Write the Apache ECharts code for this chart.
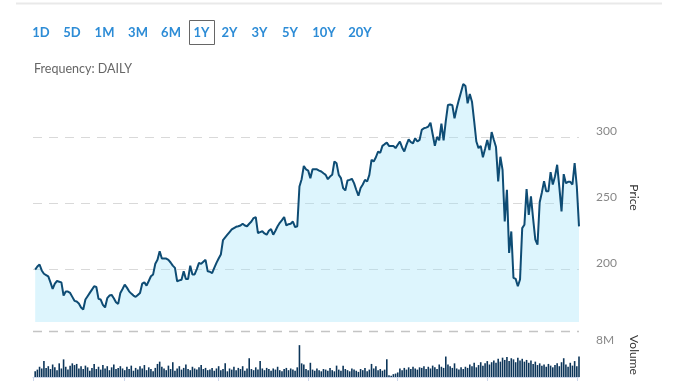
<!DOCTYPE html>
<html><head><meta charset="utf-8">
<script src="https://cdn.jsdelivr.net/npm/echarts@6/dist/echarts.min.js"></script>
<style>html,body{margin:0;padding:0;background:#fff}#c{width:678px;height:381px}</style>
</head><body><div id="c"></div>
<script>
// ---- data ----
const rangeButtons = ['1D','5D','1M','3M','6M','1Y','2Y','3Y','5Y','10Y','20Y'];
const activeRange = '1Y';
const frequencyText = 'Frequency: DAILY';
const priceTicks = [200, 250, 300];
const volumeTicks = [8];               // millions
const monthTickDays = [-1, 41, 84, 125, 166, 207, 248]; // trading-day index of month ticks

const price = [
199.6,202,203.5,199,196.5,195.5,194.5,190,185,189,
191,190.5,190,180,183,183,182,179,176,175.5,
174,171,169.5,177,179.5,182,184.5,187,186.5,177.5,
177,173,171,178,180,180.5,178,175,173.7,182,
185,188.3,186,183.2,181.5,180,179,180.5,182,189,
190,187.5,191,194.6,196,204,207,213.5,208,208,
208,207,205,202.6,200.9,190.8,191.5,192,198.3,192.5,
192.5,202.6,196,196,200,204.7,204,205.5,207,198.3,
198,197,201,204.7,208,211,222,224,226,228,
230,231,232,232.4,233,234.3,233,232.4,234.3,236,
238.6,239.3,227.3,228,228.6,227,226,229,230.3,226,
229,232.4,235,237,239.4,233,234,234.3,236,231.7,
232.4,262.5,268,278,275.5,274.5,268.8,275.5,275.5,275.5,
274.5,273.8,272.5,271.3,268,270,271.3,281.4,280,271.3,
268.8,261.3,259.5,267,267.5,268.3,265,260,255.5,261.3,
264,267.5,266.3,271.3,282.6,281.4,284.6,288.9,288,293.2,
294.5,295.7,293.2,293.2,293.2,291.5,294,296.5,292,288.9,
294,298.2,296,295.2,299,296.5,297.7,305.3,306.5,307,
307.8,310.8,302,293.2,300,297.4,310,297.4,312,324.2,
324.5,324,314,321.6,328,334,340,338.5,325.4,332.4,
326.6,312,296.5,291.5,293.2,284.6,291,297.7,290,303.7,
297.9,292.3,266.3,285,275,236,260,212.2,228.5,193.4,
192.6,187,192.1,231,233.5,260.5,241,255,238,222.3,
218.5,250.6,258,266.4,258.9,258.9,273.3,264,270,278.9,
262,243.6,271.8,265,266,266,264,280.1,262.5,232.3
];

const volume = [ // millions
1.0,1.3,1.8,1.5,2.8,1.6,1.9,1.4,2.2,1.7,
1.2,2.4,1.5,3.1,1.8,1.3,2.0,2.4,2.1,2.3,
1.5,1.9,1.4,2.0,1.7,1.1,1.6,2.3,1.4,1.8,
1.3,2.1,1.5,1.9,1.2,1.7,2.2,1.4,1.6,1.9,
1.5,1.2,1.8,1.4,2.0,1.1,1.6,1.3,1.9,1.5,
2.1,1.2,1.7,1.4,1.0,1.6,2.3,2.7,1.8,1.5,
1.2,2.0,1.4,2.6,1.1,1.5,1.9,1.3,1.6,2.2,
1.4,1.2,1.8,1.5,1.3,1.7,2.1,1.4,1.6,1.2,
1.3,1.6,1.1,1.5,1.9,1.2,1.4,2.4,1.0,1.5,
1.3,1.8,1.2,1.6,1.4,1.9,1.1,1.5,3.3,1.4,
1.2,1.7,1.3,2.8,1.5,1.2,1.6,1.4,1.1,1.5,
1.3,1.8,1.2,1.0,1.4,1.6,1.2,1.5,1.3,1.1,
1.7,5.6,2.4,2.2,1.4,1.2,2.5,1.3,1.1,1.5,
1.2,1.0,1.4,1.3,1.1,1.6,1.2,1.0,2.0,1.3,
1.1,2.0,1.4,1.2,1.0,1.5,1.3,1.1,0.9,1.4,
1.2,1.6,1.0,1.3,2.3,1.5,1.9,1.2,1.4,1.1,
1.3,3.1,0.3,0.2,0.5,0.6,0.8,1.5,1.2,1.6,
1.3,1.7,1.4,1.8,1.5,1.3,1.7,1.6,1.9,1.4,
1.8,1.5,2.0,1.7,1.4,2.2,1.8,1.6,3.6,2.2,
1.9,1.6,2.4,1.5,1.3,1.7,1.4,1.8,1.6,2.2,
1.9,2.5,1.7,2.1,2.6,2.0,2.4,2.8,2.2,2.6,
2.9,2.5,3.2,2.7,3.4,3.0,3.5,2.8,3.3,3.1,
2.6,3.4,2.9,3.2,2.7,3.0,2.5,2.9,2.3,2.7,
2.1,2.4,2.0,2.2,1.8,2.3,2.0,1.7,2.1,2.4,
1.9,2.6,3.3,2.2,1.8,2.5,2.0,2.8,1.9,3.6
];

// ---- layout (not data) ----
const buttonCenters = [41, 72, 104.5, 138, 171, 201.5, 229.5, 259.5, 290, 324, 360];
const btnY = 33;

const chart = echarts.init(document.getElementById('c'), null, {renderer: 'canvas'});

const graphics = [
  {type: 'rect', shape: {x: 16, y: 2.5, width: 646, height: 2}, style: {fill: '#e9e9e9'}, silent: true},
  {type: 'text', x: 34, y: 69, style: {text: frequencyText, font: '12.5px Lato', fill: '#666666', textAlign: 'left', textVerticalAlign: 'middle'}}
];
rangeButtons.forEach((b, k) => {
  if (b === activeRange) {
    graphics.push({type: 'rect', shape: {x: 189.5, y: 20.5, width: 25, height: 24}, style: {fill: 'none', stroke: '#666666', lineWidth: 1}});
  }
  graphics.push({type: 'text', x: buttonCenters[k], y: btnY, style: {text: b, font: 'bold 13px Lato', fill: '#2d8cd6', textAlign: 'center', textVerticalAlign: 'middle'}});
});

const dashStyle = {color: '#d9d9d9', type: [9, 7], width: 1};

// horizontal dashed grid line of the volume pane, drawn on the volume axes
const volGridSeries = volumeTicks.map(v => ({
  type: 'line', xAxisIndex: 1, yAxisIndex: 1, silent: true, symbol: 'none', z: 10,
  lineStyle: {color: '#c4c4c4', type: [9, 7], width: 1.5}, data: [[-1, v], [volume.length - 1, v]]
}));

chart.setOption({
  animation: false,
  backgroundColor: '#ffffff',
  graphic: {elements: graphics},
  grid: [
    {left: 33, right: 99, top: 84, height: 238},
    {left: 33, right: 99, top: 329, height: 48}
  ],
  xAxis: [
    {type: 'value', gridIndex: 0, min: -1, max: price.length - 1, show: false},
    {type: 'value', gridIndex: 1, min: -1, max: volume.length - 1,
     axisLine: {show: true, lineStyle: {color: '#ccd6eb', width: 1}},
     axisTick: {show: true, length: 5, lineStyle: {color: '#ccd6eb'}, customValues: monthTickDays},
     axisLabel: {show: false}, splitLine: {show: false}}
  ],
  yAxis: [
    {type: 'value', gridIndex: 0, position: 'right', min: 160, max: 340,
     axisLine: {show: false}, axisTick: {show: false, customValues: priceTicks},
     axisLabel: {customValues: priceTicks, color: '#888888', fontSize: 12, fontFamily: 'Lato', margin: 17, align: 'left', verticalAlign: 'bottom'},
     splitLine: {show: true, lineStyle: dashStyle},
     name: 'Price', nameLocation: 'middle', nameRotate: -90, nameGap: 49,
     nameTextStyle: {color: '#333333', fontSize: 12, fontFamily: 'Lato', padding: [0, 11, 0, 0]}},
    {type: 'value', gridIndex: 1, position: 'right', min: 0, max: 8.44,
     axisLine: {show: false}, axisTick: {show: false, customValues: volumeTicks},
     axisLabel: {customValues: volumeTicks, formatter: v => v + 'M', color: '#888888', fontSize: 12, fontFamily: 'Lato', margin: 17, align: 'left', verticalAlign: 'top', padding: [3, 0, 0, 0]},
     splitLine: {show: false},
     name: 'Volume', nameLocation: 'middle', nameRotate: -90, nameGap: 49,
     nameTextStyle: {color: '#333333', fontSize: 12, fontFamily: 'Lato', padding: [0, 0, 0, 4]}}
  ],
  series: [
    {type: 'line', xAxisIndex: 0, yAxisIndex: 0, data: price.map((v, i) => [i, v]),
     symbol: 'none', clip: false,
     lineStyle: {color: '#0e4c74', width: 2},
     areaStyle: {color: 'rgba(160,226,250,0.5)', origin: 'start'}},
    {type: 'bar', xAxisIndex: 1, yAxisIndex: 1, data: volume.map((v, i) => [i, v]),
     barWidth: 1.6, itemStyle: {color: '#0c3559'}}
  ].concat(volGridSeries)
});
</script></body></html>
